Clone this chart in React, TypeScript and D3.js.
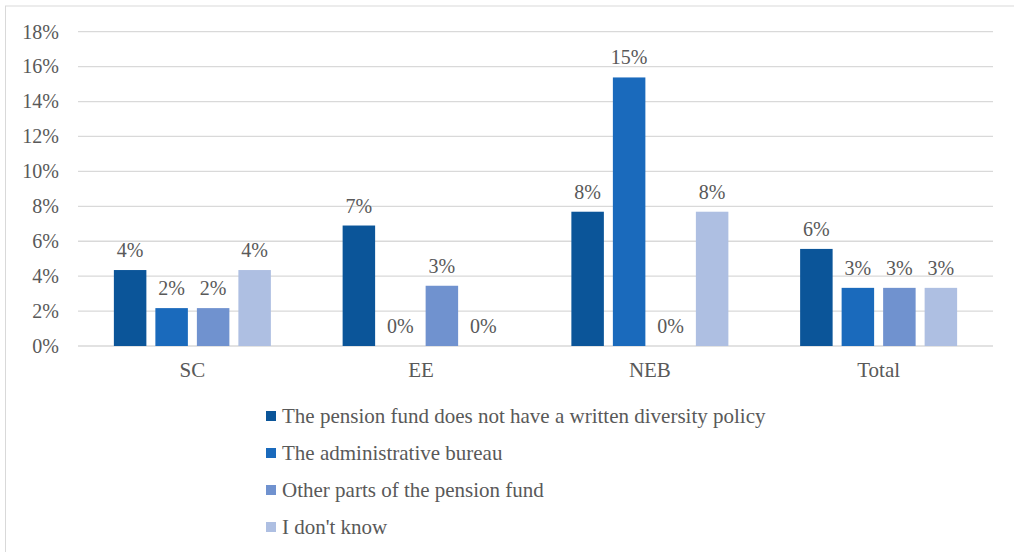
import React from "react";
import * as d3 from "d3";

const categories = ["SC", "EE", "NEB", "Total"];
const seriesNames = [
  "The pension fund does not have a written diversity policy",
  "The administrative bureau",
  "Other parts of the pension fund",
  "I don't know",
];
const seriesColors = ["#0B5599", "#1A6ABC", "#7092CF", "#AEBFE2"];
// values as fractions, rows = series, cols = categories
const policyValues = [0.0435, 0.069, 0.0769, 0.0556];
const bureauValues = [0.0217, 0, 0.1538, 0.0333];
const otherValues = [0.0217, 0.0345, 0, 0.0333];
const dontKnowValues = [0.0435, 0, 0.0769, 0.0333];
const yTicks = [0, 0.02, 0.04, 0.06, 0.08, 0.1, 0.12, 0.14, 0.16, 0.18];

const allValues = [policyValues, bureauValues, otherValues, dontKnowValues];

export default function App() {
  const W = 1014;
  const H = 552;
  const plotLeft = 78;
  const plotRight = 993;
  const plotTop = 31.7;
  const plotBottom = 346;
  const textColor = "#595959";
  const ts = { fontFamily: '"Liberation Serif", "Times New Roman", serif' };

  const y = d3.scaleLinear().domain([0, 0.18]).range([plotBottom, plotTop]);
  const x0 = d3.scaleBand().domain(categories).range([plotLeft, plotRight]).padding(0);
  const groupW = 157;
  const x1 = d3
    .scaleBand()
    .domain(seriesNames)
    .range([-groupW / 2, groupW / 2])
    .paddingInner(0.217)
    .paddingOuter(0);
  const fmt = d3.format(".0%");

  return (
    <svg width={W} height={H} style={{ position: "absolute", left: 0, top: 0, background: "#fff" }}>
      <rect x={5.5} y={6} width={W + 10} height={H + 10} fill="#fff" stroke="#D9D9D9" strokeWidth={1} />
      {yTicks.map((t) => (
        <g key={t}>
          <line x1={plotLeft} x2={plotRight} y1={y(t)} y2={y(t)} stroke="#D9D9D9" strokeWidth={1.3} />
          <text x={59} y={y(t)} dy="0.34em" textAnchor="end" fontSize={20} fill={textColor} style={ts}>
            {fmt(t)}
          </text>
        </g>
      ))}
      {categories.map((c, ci) => {
        const cx = (x0(c) as number) + x0.bandwidth() / 2;
        return (
          <g key={c}>
            {seriesNames.map((s, si) => {
              const v = allValues[si][ci];
              const bx = cx + (x1(s) as number);
              const by = y(v);
              return (
                <g key={s}>
                  <rect
                    x={bx}
                    y={by}
                    width={x1.bandwidth()}
                    height={plotBottom - by}
                    fill={seriesColors[si]}
                  />
                  <text
                    x={bx + x1.bandwidth() / 2}
                    y={by - 13}
                    textAnchor="middle"
                    fontSize={20}
                    fill={textColor}
                    style={ts}
                  >
                    {fmt(v)}
                  </text>
                </g>
              );
            })}
            <text x={cx} y={377} textAnchor="middle" fontSize={21} fill={textColor} style={ts}>
              {c}
            </text>
          </g>
        );
      })}
      {seriesNames.map((s, si) => {
        const ly = 416 + si * 37;
        return (
          <g key={s}>
            <rect x={266} y={ly - 5} width={10} height={10} fill={seriesColors[si]} />
            <text x={282} y={ly} dy="0.34em" fontSize={21} fill={textColor} style={ts}>
              {s}
            </text>
          </g>
        );
      })}
    </svg>
  );
}
